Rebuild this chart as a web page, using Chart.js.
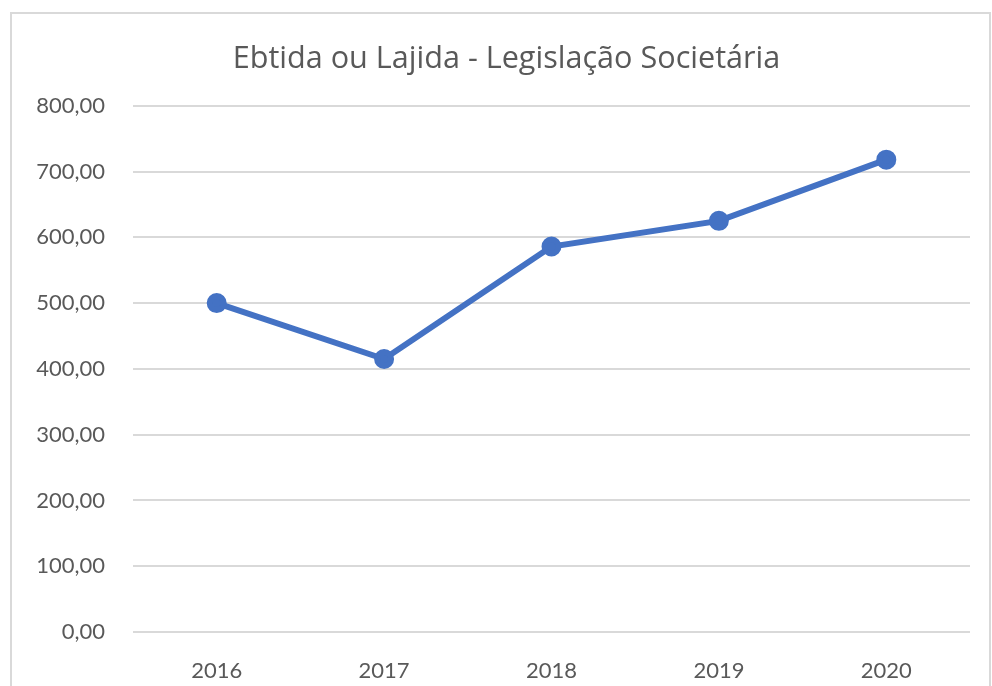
<!DOCTYPE html>
<html lang="pt">
<head>
    <meta charset="UTF-8">
    <title>Ebtida ou Lajida</title>
    <script src="https://cdn.jsdelivr.net/npm/chart.js"></script>
    <style>
        html, body {
            margin: 0;
            padding: 0;
            width: 992px;
            height: 686px;
            overflow: hidden;
            background: #ffffff;
        }
        .frame {
            position: absolute;
            left: 10px;
            top: 12px;
            width: 981px;
            height: 700px;
            border: 2px solid #d9d9d9;
            box-sizing: border-box;
        }
        .chart-box {
            position: absolute;
            left: 0;
            top: 0;
            width: 992px;
            height: 686px;
        }
    </style>
</head>
<body>
    <div class="frame"></div>
    <div class="chart-box">
        <canvas id="ebtidaChart"></canvas>
    </div>

    <script>
        const chartTitle = 'Ebtida ou Lajida - Legislação Societária';
        const years = ['2016', '2017', '2018', '2019', '2020'];
        const ebtida = [500, 415, 586, 625, 718];
        const yMin = 0;
        const yMax = 800;
        const yStep = 100;

        const fontFamily = 'Lato, "Open Sans", sans-serif';
        const titleFont = '"Open Sans", Lato, sans-serif';
        const textColor = '#595959';

        function formatBR(value) {
            return value.toFixed(2).replace('.', ',');
        }

        const ctx = document.getElementById('ebtidaChart').getContext('2d');
        new Chart(ctx, {
            type: 'line',
            data: {
                labels: years,
                datasets: [{
                    label: 'Ebtida',
                    data: ebtida,
                    borderColor: '#4472C4',
                    backgroundColor: '#4472C4',
                    borderWidth: 6,
                    pointRadius: 7,
                    pointHoverRadius: 7,
                    tension: 0
                }]
            },
            options: {
                responsive: true,
                maintainAspectRatio: false,
                animation: false,
                layout: {
                    padding: { left: 32, right: 11, top: 12, bottom: 0 }
                },
                plugins: {
                    legend: { display: false },
                    tooltip: { enabled: false },
                    title: {
                        display: true,
                        text: chartTitle,
                        color: textColor,
                        font: { family: titleFont, size: 30.6, weight: 'normal', lineHeight: 1.2 },
                        padding: { top: 29, bottom: 28 }
                    }
                },
                scales: {
                    x: {
                        offset: true,
                        grid: { display: false },
                        border: { display: false },
                        ticks: {
                            color: textColor,
                            font: { family: fontFamily, size: 22 },
                            padding: 18
                        },
                        afterFit: (scale) => { scale.height = 54; }
                    },
                    y: {
                        min: yMin,
                        max: yMax,
                        border: { display: false },
                        grid: {
                            color: '#d9d9d9',
                            lineWidth: 2,
                            drawTicks: false
                        },
                        ticks: {
                            stepSize: yStep,
                            color: textColor,
                            font: { family: fontFamily, size: 22 },
                            padding: 28,
                            callback: (value) => formatBR(value)
                        },
                        afterFit: (scale) => { scale.width = 101; }
                    },
                    // empty spacer on the right so the plot stops short of the frame
                    spacer: {
                        type: 'linear',
                        position: 'right',
                        min: yMin,
                        max: yMax,
                        border: { display: false },
                        grid: { display: false },
                        ticks: { display: false },
                        afterFit: (scale) => { scale.width = 11; }
                    }
                }
            }
        });
    </script>
</body>
</html>
